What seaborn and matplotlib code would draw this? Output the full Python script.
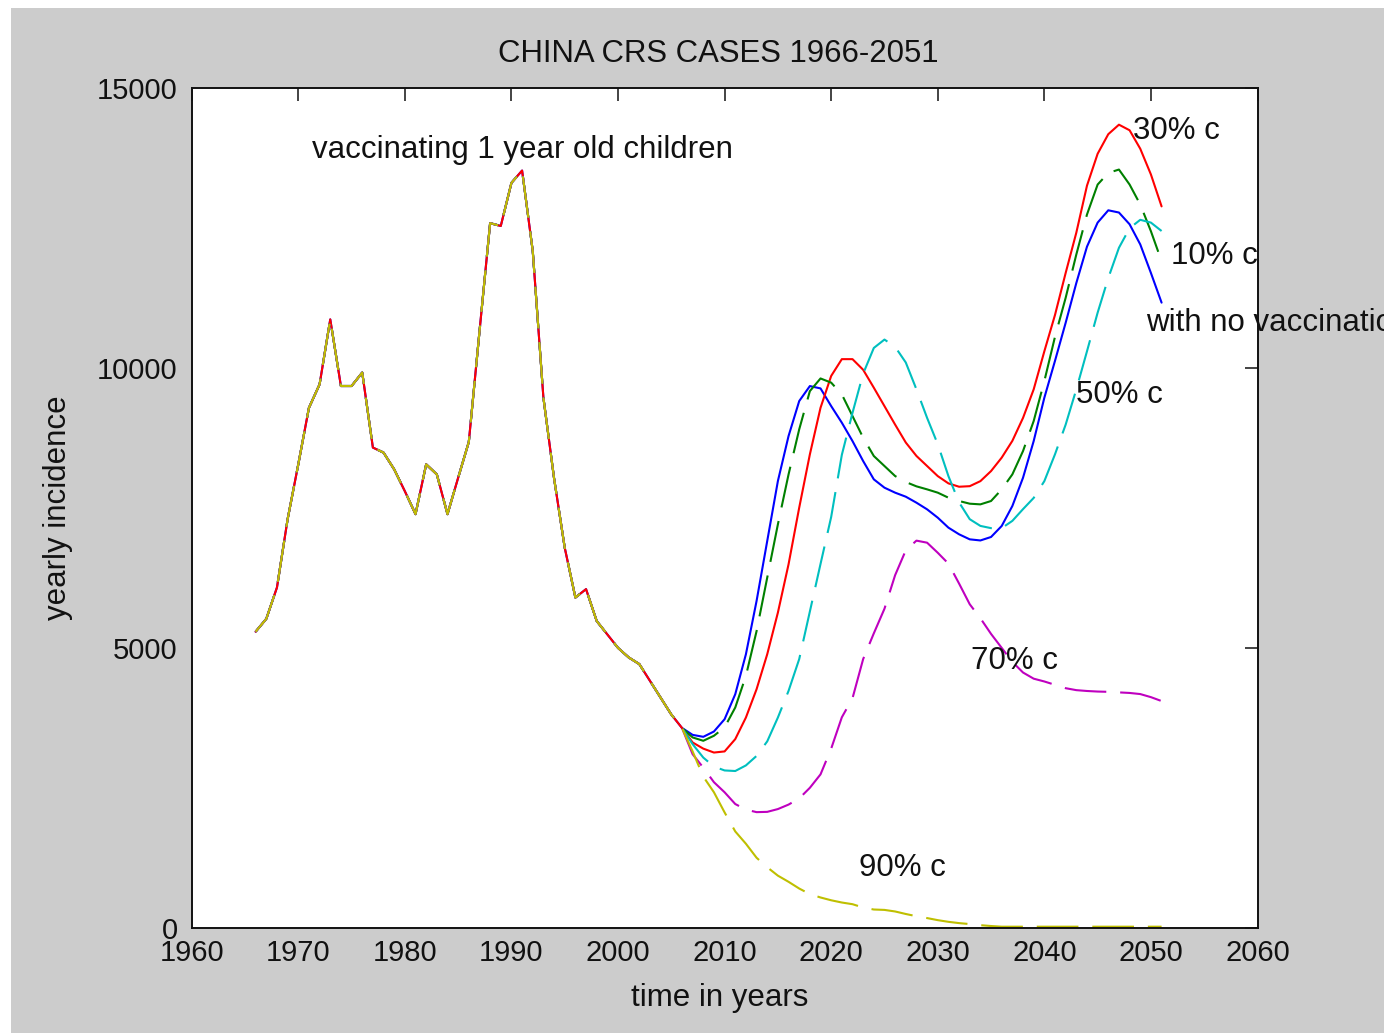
import numpy as np
import pandas as pd
import matplotlib
matplotlib.use("Agg")
import matplotlib.pyplot as plt
from matplotlib.patches import Rectangle
import seaborn as sns

# Observed yearly CRS incidence, shared by every scenario (1966-2006)
hist_years = list(range(1966, 2007))
hist_cases = [5290, 5520, 6080, 7300, 8280, 9290, 9710, 10870, 9680, 9680,
              9920, 8580, 8490, 8190, 7800, 7390, 8280, 8100, 7390, 8040,
              8680, 10650, 12590, 12540, 13310, 13530, 12090, 9470, 8030, 6790,
              5900, 6050, 5480, 5240, 5000, 4830, 4710, 4410, 4110, 3810,
              3570]

# Projected incidence 2007-2051 under each vaccination coverage
proj_years = list(range(2007, 2052))
no_vacc = [3446, 3411, 3506, 3726, 4173, 4887, 5839, 6911, 7982, 8786,
           9411, 9679, 9637, 9321, 9024, 8696, 8339, 8012, 7863, 7774,
           7702, 7595, 7476, 7327, 7149, 7030, 6940, 6920, 6982, 7179,
           7536, 8041, 8696, 9470, 10130, 10810, 11520, 12170, 12600, 12820,
           12780, 12570, 12210, 11700, 11170]
cov_10 = [3400, 3340, 3430, 3580, 3935, 4500, 5300, 6256, 7208, 8100,
          8905, 9589, 9815, 9740, 9530, 9143, 8756, 8429, 8250, 8071,
          7964, 7887, 7833, 7774, 7684, 7625, 7577, 7565, 7625, 7833,
          8101, 8518, 9054, 9768, 10560, 11256, 12030, 12744, 13280, 13488,
          13548, 13280, 12923, 12446, 11911]
cov_30 = [3310, 3200, 3130, 3150, 3370, 3756, 4262, 4887, 5631, 6494,
          7506, 8458, 9291, 9860, 10160, 10160, 9970, 9650, 9320, 8990,
          8670, 8430, 8250, 8070, 7940, 7880, 7890, 7980, 8160, 8400,
          8700, 9110, 9620, 10300, 10950, 11700, 12420, 13260, 13830, 14180,
          14350, 14250, 13920, 13460, 12890]
cov_50 = [3280, 3040, 2880, 2810, 2800, 2900, 3070, 3330, 3756, 4232,
          4800, 5650, 6500, 7340, 8450, 9200, 9900, 10360, 10510, 10380,
          10100, 9620, 9110, 8640, 8070, 7600, 7300, 7180, 7140, 7140,
          7270, 7480, 7680, 7980, 8460, 8990, 9620, 10300, 10990, 11610,
          12150, 12500, 12650, 12600, 12450]
cov_70 = [3100, 2860, 2600, 2420, 2210, 2110, 2065, 2070, 2120, 2200,
          2310, 2500, 2740, 3200, 3760, 4100, 4800, 5260, 5700, 6300,
          6744, 6917, 6880, 6700, 6506, 6150, 5780, 5530, 5250, 5000,
          4750, 4560, 4450, 4400, 4340, 4280, 4245, 4230, 4220, 4215,
          4205, 4195, 4175, 4120, 4050]
cov_90 = [3150, 2700, 2420, 2060, 1720, 1500, 1250, 1080, 930, 820,
          700, 600, 540, 490, 450, 420, 360, 325, 318, 290,
          245, 205, 172, 135, 105, 82, 65, 45, 30, 18,
          18, 18, 18, 18, 18, 18, 18, 18, 18, 18,
          18, 18, 18, 18, 18]

scenario_names = ["none", "c30", "c10", "c50", "c70", "c90"]
scenario_values = [no_vacc, cov_30, cov_10, cov_50, cov_70, cov_90]
scenario_colors = {"none": (0, 0, 1), "c30": (1, 0, 0), "c10": (0, 0.5, 0),
                   "c50": (0, 0.75, 0.75), "c70": (0.75, 0, 0.75),
                   "c90": (0.75, 0.75, 0)}
dash_on, dash_off = 30, 10
scenario_dashes = {"none": "", "c30": "", "c10": (dash_on, dash_off),
                   "c50": (dash_on, dash_off), "c70": (dash_on, dash_off),
                   "c90": (dash_on, dash_off)}

# Text annotations: label, x, baseline y
labels_text = ["vaccinating 1 year old children", "30% c", "10% c",
               "with no vaccination", "50% c", "70% c", "90% c"]
labels_x = [1971.3, 2048.35, 2051.9, 2049.55, 2043.0, 2033.1, 2022.6]
labels_y = [13750, 14090, 11860, 10660, 9375, 4625, 930]

frames = []
for name, vals in zip(scenario_names, scenario_values):
    frames.append(pd.DataFrame({
        "year": hist_years + proj_years,
        "cases": hist_cases + vals,
        "scenario": name,
    }))
df = pd.concat(frames, ignore_index=True)

sns.set_theme(style="white")
plt.rcParams["font.family"] = ["Liberation Sans", "DejaVu Sans"]
plt.rcParams["lines.scale_dashes"] = False

W, H = 1384, 1034
fig = plt.figure(figsize=(W / 100, H / 100), dpi=100, facecolor="white")
fig.patches.append(Rectangle((11 / W, 1 / H), 1 - 11 / W, 1 - 9 / H,
                             transform=fig.transFigure, facecolor="#cccccc",
                             edgecolor="none", zorder=-10))
ax = fig.add_axes([191.7 / W, (H - 927.7) / H, (1257.5 - 191.7) / W,
                   (927.7 - 88.3) / H])
ax.set_facecolor("white")

sns.lineplot(data=df, x="year", y="cases", hue="scenario", style="scenario",
             hue_order=scenario_names, style_order=scenario_names,
             palette=scenario_colors, dashes=scenario_dashes,
             estimator=None, errorbar=None, legend=False, linewidth=1.5,
             ax=ax)

ax.set_xlim(1960, 2060)
ax.set_ylim(0, 15000)
ax.set_xticks(range(1960, 2061, 10))
ax.set_yticks([0, 5000, 10000, 15000])

for side in ["left", "right", "top", "bottom"]:
    ax.spines[side].set_visible(True)
    ax.spines[side].set_color("#111111")
    ax.spines[side].set_linewidth(1.4)

ax.tick_params(axis="both", direction="in", length=9.5, width=1.1,
               colors="#111111", labelsize=21, top=True, right=True)
ax.tick_params(axis="x", pad=8)
ax.tick_params(axis="y", pad=10)

title = ax.set_title("CHINA CRS CASES 1966-2051", fontsize=22.4,
                     color="#111111", pad=19)
title.set_x(0.494)
ax.set_xlabel("time in years", fontsize=22.5, color="#111111")
ax.set_ylabel("yearly incidence", fontsize=22.5, color="#111111")
ax.xaxis.set_label_coords(0.495, -0.066)
ax.yaxis.set_label_coords(-0.111, 0.5)

for txt, tx, ty in zip(labels_text, labels_x, labels_y):
    ax.text(tx, ty, txt, fontsize=22.5, color="#111111", ha="left",
            va="baseline", clip_on=False)

fig.savefig("out.png", dpi=100, facecolor=fig.get_facecolor())
